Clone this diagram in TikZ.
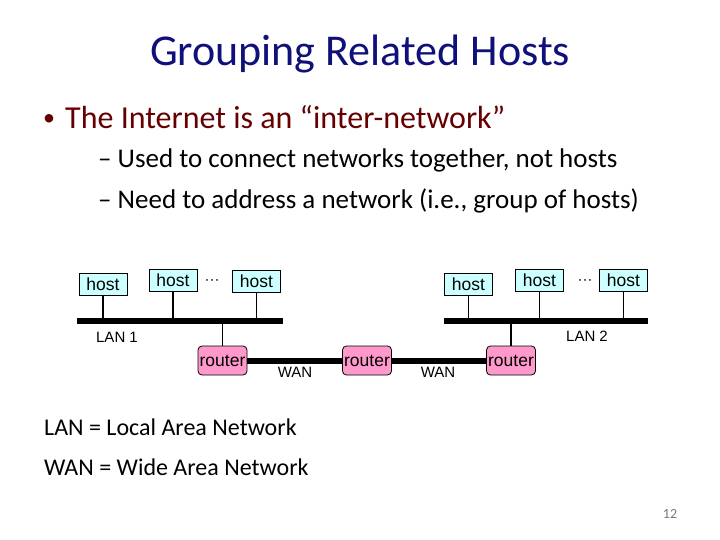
\documentclass[tikz,border=0pt]{standalone}
\usepackage{fontspec}
\setmainfont{Carlito}
\newfontfamily\diagfont{Liberation Sans}
\usepackage{tikz}
\usetikzlibrary{calc}
\definecolor{titleblue}{RGB}{16,16,122}
\definecolor{bulletred}{RGB}{102,0,0}
\definecolor{hostcyan}{RGB}{204,255,255}
\definecolor{routerpink}{RGB}{255,153,204}
\definecolor{pagegray}{RGB}{120,120,120}

\tikzset{
    hostbox/.style={
        draw=black, fill=hostcyan, line width=0.8pt,
        minimum width=48pt, minimum height=22pt, inner sep=0pt,
        font=\diagfont\fontsize{17.5}{17.5}\selectfont
    },
    routerbox/.style={
        draw=black, fill=routerpink, line width=0.8pt, rounded corners=4pt,
        minimum width=49pt, minimum height=29pt, inner sep=0pt,
        font=\diagfont\fontsize{17.5}{17.5}\selectfont
    },
    netlabel/.style={
        inner sep=0pt, font=\diagfont\fontsize{15}{15}\selectfont
    },
    bus/.style={line width=6pt},
    drop/.style={line width=1.3pt}
}

\begin{document}
\begin{tikzpicture}[x=1pt, y=-1pt]

\useasboundingbox (0,0) rectangle (720,540);

% ---------------- TEXT ----------------

\node[titleblue, font=\fontsize{44}{52}\selectfont, anchor=base]
    (title) at (360,66) {Grouping Related Hosts};

\node[bulletred, font=\fontsize{24}{30}\selectfont, anchor=base west, inner sep=0pt]
    (dot) at (43,126) {\textbullet};
\node[bulletred, font=\fontsize{32}{38}\selectfont, anchor=base west, inner sep=0pt]
    (point) at (65,129) {The Internet is an “inter-network”};

\node[font=\fontsize{27}{32}\selectfont, anchor=base west, inner sep=0pt]
    (sub1) at (98,168) {– Used to connect networks together, not hosts};
\node[font=\fontsize{27}{32}\selectfont, anchor=base west, inner sep=0pt]
    (sub2) at (98,209) {– Need to address a network (i.e., group of hosts)};

\node[font=\fontsize{24}{29}\selectfont, anchor=base west, inner sep=0pt]
    (lanlegend) at (44,435) {LAN = Local Area Network};
\node[font=\fontsize{24}{29}\selectfont, anchor=base west, inner sep=0pt]
    (wanlegend) at (44,475) {WAN = Wide Area Network};

\node[pagegray, font=\fontsize{14}{16}\selectfont]
    (pageno) at (670,514) {12};

% ---------------- LAN 1 ----------------

\coordinate (lan1w) at (77,321);
\coordinate (lan1e) at (283,321);
\draw[bus] (lan1w) -- (lan1e);

\node[hostbox] (h1) at (103,284) {host};
\node[hostbox] (h2) at (173,280.5) {host};
\node[hostbox] (h3) at (256.5,281) {host};
\node[netlabel] (dots1) at (212,282) {···};

\foreach \h in {h1,h2,h3}
    \draw[drop] (\h.south) -- (\h.south |- lan1w);

\node[netlabel] (lan1) at (117,337) {LAN 1};

% ---------------- LAN 2 ----------------

\coordinate (lan2w) at (444,321);
\coordinate (lan2e) at (648,321);
\draw[bus] (lan2w) -- (lan2e);

\node[hostbox] (h4) at (468.5,284) {host};
\node[hostbox] (h5) at (539.5,280.5) {host};
\node[hostbox] (h6) at (623.5,280.5) {host};
\node[netlabel] (dots2) at (585,282) {···};

\foreach \h in {h4,h5,h6}
    \draw[drop] (\h.south) -- (\h.south |- lan2w);

\node[netlabel] (lan2) at (587,336) {LAN 2};

% ---------------- ROUTERS ----------------

\node[routerbox] (r1) at (222.5,360.5) {router};
\node[routerbox] (r2) at (367,360.5) {router};
\node[routerbox] (r3) at (511,360.5) {router};

\draw[drop] (r1.north |- lan1w) -- (r1.north);
\draw[drop] (r3.north |- lan2w) -- (r3.north);

\draw[bus] (r1.east) -- (r2.west);
\draw[bus] (r2.east) -- (r3.west);

\node[netlabel] (wan1) at (295,372) {WAN};
\node[netlabel] (wan2) at (438,372) {WAN};

\end{tikzpicture}
\end{document}
